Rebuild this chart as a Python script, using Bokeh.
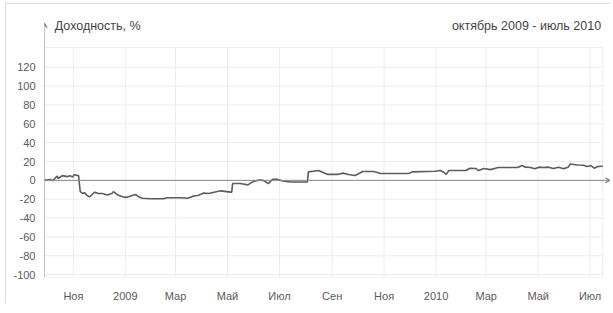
import pandas as pd
from bokeh.plotting import figure
from bokeh.models import Range1d, FixedTicker, Arrow, VeeHead, Label, ColumnDataSource
from bokeh.embed import file_html
from bokeh.resources import INLINE

# ---- data ----
dates = [
    "2008-09-28", "2008-10-05", "2008-10-08", "2008-10-11", "2008-10-13", "2008-10-14",
    "2008-10-19", "2008-10-25", "2008-10-28", "2008-10-31", "2008-11-02", "2008-11-07",
    "2008-11-09", "2008-11-12", "2008-11-14", "2008-11-17", "2008-11-20", "2008-11-23",
    "2008-11-26", "2008-11-30", "2008-12-05", "2008-12-11", "2008-12-16", "2008-12-18",
    "2008-12-23", "2008-12-29", "2009-01-03", "2009-01-09", "2009-01-13", "2009-01-16",
    "2009-01-21", "2009-01-31", "2009-02-15", "2009-02-19", "2009-03-07", "2009-03-15",
    "2009-03-21", "2009-03-24", "2009-03-27", "2009-03-30", "2009-04-03", "2009-04-09",
    "2009-04-14", "2009-04-23", "2009-05-05", "2009-05-06", "2009-05-07", "2009-05-16",
    "2009-05-25", "2009-05-31", "2009-06-07", "2009-06-12", "2009-06-18", "2009-06-23",
    "2009-06-29", "2009-07-05", "2009-07-14", "2009-08-01", "2009-08-03", "2009-08-04",
    "2009-08-10", "2009-08-16", "2009-08-22", "2009-08-27", "2009-09-07", "2009-09-14",
    "2009-09-20", "2009-09-28", "2009-10-07", "2009-10-20", "2009-10-28", "2009-11-17",
    "2009-11-30", "2009-12-04", "2009-12-31", "2010-01-06", "2010-01-10", "2010-01-13",
    "2010-01-16", "2010-02-05", "2010-02-10", "2010-02-17", "2010-02-20", "2010-02-26",
    "2010-03-06", "2010-03-15", "2010-03-22", "2010-04-07", "2010-04-12", "2010-04-16",
    "2010-04-22", "2010-04-27", "2010-05-02", "2010-05-07", "2010-05-13", "2010-05-19",
    "2010-05-25", "2010-05-31", "2010-06-05", "2010-06-08", "2010-06-16", "2010-06-23",
    "2010-06-28", "2010-07-02", "2010-07-06", "2010-07-10", "2010-07-16",
]
values = [
    0.0, 1.0, -0.5, 3.0, 4.5, 2.0,
    5.0, 4.0, 5.0, 3.5, 6.0, 5.0,
    -12.0, -14.0, -13.0, -16.0, -17.5, -15.0,
    -12.5, -14.0, -14.0, -15.5, -14.0, -12.0,
    -15.5, -17.5, -18.0, -16.0, -15.0, -17.0,
    -19.0, -19.5, -19.5, -18.5, -18.5, -19.0,
    -17.0, -16.3, -16.0, -15.0, -13.5, -13.9,
    -12.8, -11.1, -12.5, -12.5, -3.4, -3.4,
    -4.8, -1.4, 0.4, 0.0, -3.4, 1.0,
    1.0, -0.6, -1.7, -1.7, -1.7, 9.0,
    9.7, 10.4, 8.0, 6.3, 6.3, 7.7,
    6.3, 5.2, 9.4, 9.4, 7.3, 7.3,
    7.3, 9.0, 9.7, 10.4, 8.6, 6.3,
    10.4, 10.4, 12.9, 12.5, 10.4, 12.5,
    11.4, 13.6, 13.6, 13.6, 15.7, 14.0,
    13.6, 12.2, 14.0, 13.6, 14.0, 12.5,
    14.0, 12.2, 14.0, 17.4, 16.3, 16.0,
    14.7, 15.7, 12.9, 14.7, 15.0,
]
tick_dates = ["2008-11-01", "2009-01-01", "2009-03-01", "2009-05-01", "2009-07-01",
              "2009-09-01", "2009-11-01", "2010-01-01", "2010-03-01", "2010-05-01",
              "2010-07-01"]
tick_labels = ["Ноя", "2009", "Мар", "Май", "Июл", "Сен", "Ноя", "2010", "Мар", "Май", "Июл"]
y_ticks = [-100, -80, -60, -40, -20, 0, 20, 40, 60, 80, 100, 120]
x_start_date, x_end_date = "2008-09-28", "2010-07-16"
y_min, y_grid_top = -103, 141
title_left = "Доходность, %"
title_right = "октябрь 2009 - июль 2010"


def ms(d):
    return int(pd.Timestamp(d).value // 10**6)


day = 86400000
src = ColumnDataSource(dict(x=[ms(d) for d in dates], y=values))
tick_ms = [ms(d) for d in tick_dates]
x0, x1 = ms(x_start_date), ms(x_end_date)
x_arrow = x1 + 9 * day          # x-axis arrow tip, beyond the grid area
y_arrow = 167                   # y-axis arrow tip, above the grid area
y_top = 178                     # room for the header texts

FONT = "Liberation Sans"
GRID = "#ececec"
AXIS = "#8a8a8a"

p = figure(width=605, height=300, output_backend="svg", toolbar_location=None,
           x_range=Range1d(x0, x_arrow), y_range=Range1d(y_min, y_top),
           min_border_left=38, min_border_right=1, min_border_top=8, min_border_bottom=23)
p.styles = {"margin-left": "5px", "margin-top": "3px",
            "border-left": "1px solid #dddddd", "border-top": "1px solid #dddddd"}
p.outline_line_color = None
p.xgrid.grid_line_color = None
p.ygrid.grid_line_color = None

# grid lines and plot-area outline
p.segment(x0=tick_ms, y0=[y_min] * len(tick_ms), x1=tick_ms, y1=[y_grid_top] * len(tick_ms),
          line_color=GRID, line_width=1)
p.segment(x0=[x0] * len(y_ticks), y0=y_ticks, x1=[x1] * len(y_ticks), y1=y_ticks,
          line_color=GRID, line_width=1)
p.quad(left=[x0], right=[x1], bottom=[y_min], top=[y_grid_top],
       fill_color=None, line_color=GRID, line_width=1)

p.xaxis.ticker = FixedTicker(ticks=tick_ms)
p.xaxis.major_label_overrides = {t: l for t, l in zip(tick_ms, tick_labels)}
p.yaxis.ticker = FixedTicker(ticks=y_ticks)
p.yaxis.major_label_overrides = {v: str(v) for v in y_ticks}

for ax in (p.xaxis[0], p.yaxis[0]):
    ax.major_tick_line_color = None
    ax.minor_tick_line_color = None
    ax.axis_line_color = None
    ax.major_label_text_font = FONT
    ax.major_label_text_font_size = "11px"
    ax.major_label_text_color = "#5a5a5a"
p.xaxis.major_label_standoff = 6
p.yaxis.major_label_standoff = 3

p.line("x", "y", source=src, line_color="#5c5c5c", line_width=1.6)

p.add_layout(Arrow(end=VeeHead(size=5, line_color=AXIS, fill_color=AXIS, line_width=1),
                   x_start=x0, y_start=0, x_end=x_arrow, y_end=0,
                   line_color=AXIS, line_width=1))
p.add_layout(Arrow(end=VeeHead(size=5, line_color=AXIS, fill_color=AXIS, line_width=1),
                   x_start=x0, y_start=y_min, x_end=x0, y_end=y_arrow,
                   line_color=AXIS, line_width=1))

p.add_layout(Label(x=x0 + 12 * day, y=164, text=title_left,
                   text_font=FONT, text_font_size="12.5px", text_color="#444444",
                   text_baseline="middle", text_align="left"))
p.add_layout(Label(x=x1 - 2 * day, y=164, text=title_right,
                   text_font=FONT, text_font_size="12.5px", text_color="#444444",
                   text_baseline="middle", text_align="right"))

open("out.html", "w").write(file_html(p, INLINE))
